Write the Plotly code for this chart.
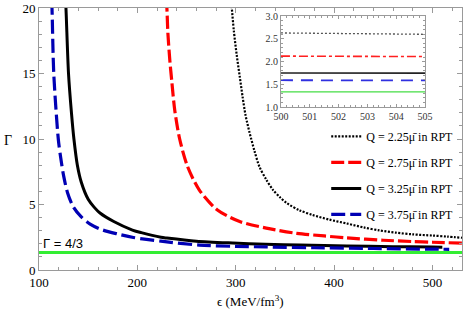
import plotly.graph_objects as go

# ---- data ----
eps_q225 = [294, 296, 298, 301, 304, 307, 310, 314, 319, 324, 331, 338, 345, 352, 365, 378, 395, 413, 430, 446, 463, 480, 500, 515, 530]
gam_q225 = [22, 20, 18.3, 16.4, 14.8, 13.2, 11.8, 10.5, 9.1, 7.9, 6.9, 6.1, 5.55, 5.1, 4.55, 4.2, 3.85, 3.55, 3.25, 3.02, 2.85, 2.72, 2.63, 2.55, 2.46]

eps_q275 = [228, 230, 231, 233, 235, 238, 243, 251, 263, 281, 304, 331, 362, 390, 413, 450, 480, 500, 530]
gam_q275 = [22, 20, 18.1, 16.0, 14.4, 12.2, 10.0, 7.9, 6.1, 4.6, 3.7, 3.2, 2.8, 2.6, 2.45, 2.27, 2.17, 2.12, 2.05]

eps_q325 = [126, 127.4, 130, 133, 135.5, 139, 143, 150, 156, 162, 176, 195, 204, 224, 230, 260, 297, 330, 365, 413, 460, 500, 510]
gam_q325 = [22, 20, 15, 12, 10, 8.0, 6.7, 5.4, 4.8, 4.35, 3.7, 3.05, 2.85, 2.5, 2.44, 2.2, 2.06, 1.97, 1.9, 1.83, 1.78, 1.75, 1.74]

eps_q375 = [112, 113.2, 115, 119.6, 122, 125, 129, 135, 143, 152, 163, 180, 196, 224, 263, 300, 331, 380, 440, 500, 517]
gam_q375 = [22, 20, 15, 10, 8.6, 7.2, 5.9, 4.8, 4.05, 3.5, 3.1, 2.75, 2.48, 2.2, 1.9, 1.8, 1.76, 1.7, 1.64, 1.59, 1.58]

eps_green = [100, 530]
gam_green = [4 / 3, 4 / 3]

# inset (zoom at 500-505)
inset_eps = [500, 505]
inset_q225 = [2.63, 2.60]
inset_q275 = [2.12, 2.11]
inset_q325 = [1.75, 1.745]
inset_q375 = [1.59, 1.585]
inset_green = [4 / 3, 4 / 3]

labels = ["Q = 2.25\u03bc\u0304 in RPT", "Q = 2.75\u03bc\u0304 in RPT",
          "Q = 3.25\u03bc\u0304 in RPT", "Q = 3.75\u03bc\u0304 in RPT"]

SERIF = "Liberation Serif"
AX = "#9a9a9a"

fig = go.Figure()

main_styles = [
    (eps_q225, gam_q225, dict(color="black", width=2.2, dash="2px,1.5px")),
    (eps_q275, gam_q275, dict(color="#ff0000", width=3.2, dash="13px,4px")),
    (eps_q325, gam_q325, dict(color="black", width=3)),
    (eps_q375, gam_q375, dict(color="#0000b4", width=3.2, dash="14px,5px")),
]
for i, (x, y, ln) in enumerate(main_styles):
    fig.add_trace(go.Scatter(x=x, y=y, mode="lines", line=dict(shape="spline", smoothing=0.8, **ln),
                             name=labels[i], legendgroup=f"g{i}", showlegend=True))

fig.add_trace(go.Scatter(x=eps_green, y=gam_green, mode="lines",
                         line=dict(color="#33ee33", width=3), showlegend=False))

inset_styles = [
    (inset_q225, dict(color="#555555", width=1.3, dash="2px,2px")),
    (inset_q275, dict(color="#ff2020", width=1.6, dash="9px,3px,3px,3px")),
    (inset_q325, dict(color="#222222", width=1.6)),
    (inset_q375, dict(color="#3030e0", width=1.8, dash="12px,8px")),
    (inset_green, dict(color="#44dd44", width=1.2)),
]
for y, ln in inset_styles:
    fig.add_trace(go.Scatter(x=inset_eps, y=y, mode="lines", line=ln, xaxis="x2", yaxis="y2",
                             showlegend=False))

fig.add_annotation(x=102, y=2.0, xref="x", yref="y", text="\u0393 = 4/3", showarrow=False,
                   xanchor="left", yanchor="middle", font=dict(family="Liberation Sans", size=13, color="black"))
# axis titles
fig.add_annotation(x=0.499, y=-0.118, xref="paper", yref="paper", text="\u03f5 (MeV/fm<sup>3</sup>)",
                   showarrow=False, xanchor="center", yanchor="middle",
                   font=dict(family=SERIF, size=13, color="black"))
fig.add_annotation(x=-0.073, y=0.496, xref="paper", yref="paper", text="\u0393",
                   showarrow=False, xanchor="center", yanchor="middle",
                   font=dict(family=SERIF, size=14, color="black"))

axis_common = dict(showgrid=False, zeroline=False, showline=True, linecolor=AX, linewidth=1,
                   mirror="ticks", ticks="inside", tickcolor=AX, ticklen=5, automargin=False,
                   tickfont=dict(family=SERIF, size=13, color="black"))

fig.update_layout(
    width=463, height=312,
    margin=dict(l=39, r=1, t=8, b=42),
    plot_bgcolor="white", paper_bgcolor="white",
    xaxis=dict(range=[100, 530], tickvals=[100, 200, 300, 400, 500],
               minor=dict(dtick=20, ticks="inside", ticklen=3, tickcolor=AX),
               **axis_common),
    yaxis=dict(range=[0, 20], tickvals=[0, 5, 10, 15, 20],
               minor=dict(dtick=1, ticks="inside", ticklen=3, tickcolor=AX),
               **axis_common),
    xaxis2=dict(domain=[0.572, 0.9125], anchor="y2", range=[500, 505], tickvals=[500, 501, 502, 503, 504, 505],
                showgrid=False, zeroline=False, showline=True, linecolor=AX, mirror="ticks",
                ticks="inside", tickcolor=AX, ticklen=3, automargin=False,
                minor=dict(dtick=0.2, ticks="inside", ticklen=2, tickcolor=AX),
                tickfont=dict(family=SERIF, size=10, color="#333333")),
    yaxis2=dict(domain=[0.622, 0.969], anchor="x2", range=[1, 3], tickvals=[1.0, 1.5, 2.0, 2.5, 3.0],
                tickformat=".1f", automargin=False,
                showgrid=False, zeroline=False, showline=True, linecolor=AX, mirror="ticks",
                ticks="inside", tickcolor=AX, ticklen=3,
                minor=dict(dtick=0.1, ticks="inside", ticklen=2, tickcolor=AX),
                tickfont=dict(family=SERIF, size=10, color="#333333")),
    legend=dict(x=0.679, y=0.565, xanchor="left", yanchor="top", bgcolor="rgba(255,255,255,0)",
                font=dict(family=SERIF, size=12, color="black"), tracegroupgap=7, itemwidth=30),
)

fig.write_html("out.html", config={"displayModeBar": False},
               post_script="document.body.style.margin='0';document.body.style.overflow='hidden';")
